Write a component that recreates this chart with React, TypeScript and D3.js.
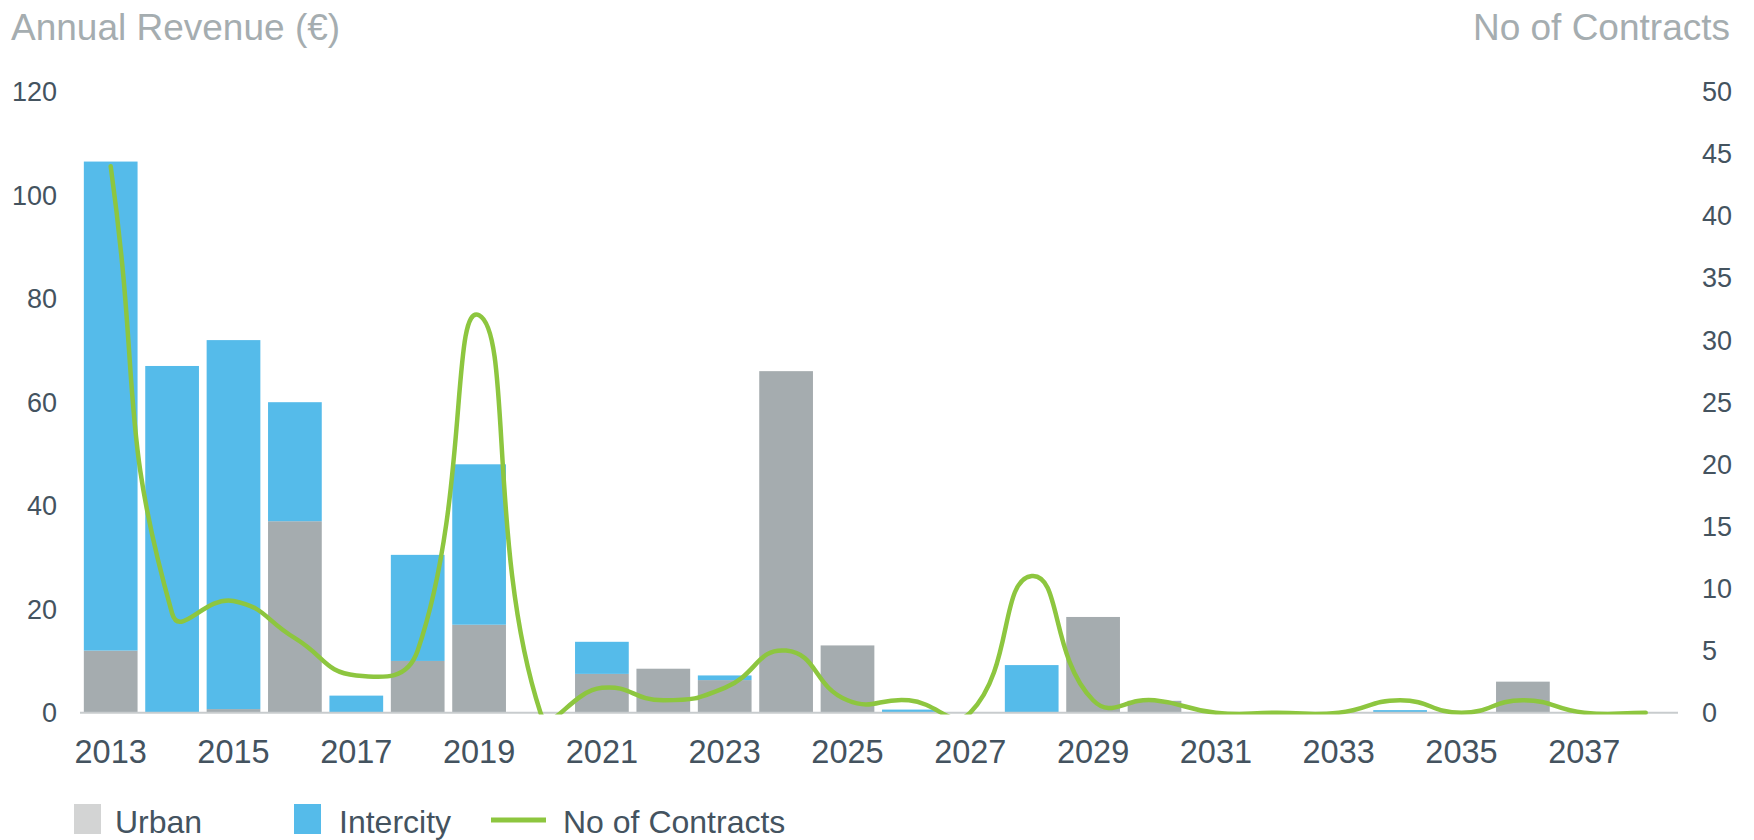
import React from "react";
import * as d3 from "d3";

const years = [2013, 2014, 2015, 2016, 2017, 2018, 2019, 2020, 2021, 2022, 2023, 2024, 2025, 2026, 2027, 2028, 2029, 2030, 2031, 2032, 2033, 2034, 2035, 2036, 2037, 2038];
const urban = [12, 0, 0.7, 37, 0, 10, 17, 0, 7.5, 8.5, 6.3, 66, 13, 0, 0, 0, 18.5, 2.3, 0, 0, 0, 0, 0, 6, 0, 0];
const intercity = [94.5, 67, 71.3, 23, 3.3, 20.5, 31, 0, 6.2, 0, 0.9, 0, 0, 0.6, 0, 9.2, 0, 0, 0, 0, 0, 0.5, 0, 0, 0, 0];
const contracts = [44, 8, 9, 6, 3, 5, 32, 0, 2, 1, 2, 5, 1, 1, 0, 11, 1, 1, 0, 0, 0, 1, 0, 1, 0, 0];
const leftTicks = [0, 20, 40, 60, 80, 100, 120];
const rightTicks = [0, 5, 10, 15, 20, 25, 30, 35, 40, 45, 50];
const xTickYears = [2013, 2015, 2017, 2019, 2021, 2023, 2025, 2027, 2029, 2031, 2033, 2035, 2037];

const W = 1754;
const H = 840;
const FONT = "'Liberation Sans', Arial, sans-serif";
const TEXT = "#44535F";
const TITLE = "#A5ADB0";
const URBAN = "#A5ACAF";
const URBAN_LEG = "#D3D4D4";
const INTER = "#55BBEA";
const GREEN = "#8DC63F";

// Excel-like smoothed line: Bezier segments whose handles follow the neighbour
// direction, scaled by the relative chord lengths.
function smoothPath(pts: [number, number][], s: number): string {
  const p = d3.path();
  if (!pts.length) return "";
  p.moveTo(pts[0][0], pts[0][1]);
  const dist = (a: [number, number], b: [number, number]) => Math.hypot(b[0] - a[0], b[1] - a[1]);
  for (let i = 0; i < pts.length - 1; i++) {
    const P0 = pts[i - 1] || pts[i];
    const P1 = pts[i];
    const P2 = pts[i + 1];
    const P3 = pts[i + 2] || pts[i + 1];
    const d01 = dist(P0, P1);
    const d12 = dist(P1, P2);
    const d23 = dist(P2, P3);
    const f1 = d01 + d12 > 0 ? (s * d12) / (d01 + d12) : 0;
    const f2 = d12 + d23 > 0 ? (s * d12) / (d12 + d23) : 0;
    const c1x = P1[0] + (P2[0] - P0[0]) * f1;
    const c1y = P1[1] + (P2[1] - P0[1]) * f1;
    const c2x = P2[0] - (P3[0] - P1[0]) * f2;
    const c2y = P2[1] - (P3[1] - P1[1]) * f2;
    p.bezierCurveTo(c1x, c1y, c2x, c2y, P2[0], P2[1]);
  }
  return p.toString();
}

export default function App() {
  const x0 = 80;
  const x1 = 1676.4;
  const yBase = 712.7;
  const yTop = 91.7;

  const x = d3.scaleBand<number>().domain(years).range([x0, x1]).paddingInner(0.125).paddingOuter(0.0625);
  const yL = d3.scaleLinear().domain([0, 120]).range([yBase, yTop]);
  const yR = d3.scaleLinear().domain([0, 50]).range([yBase, yTop]);
  const bw = x.bandwidth();
  const cx = (yr: number) => (x(yr) as number) + bw / 2;

  const pts = contracts.map((v, i) => [cx(years[i]), yR(v)] as [number, number]);
  const linePath = smoothPath(pts, 0.5);

  return (
    <svg width={W} height={H} style={{ position: "absolute", left: 0, top: 0, background: "#fff" }} fontFamily={FONT}>
      <defs>
        <clipPath id="plotClip">
          <rect x={x0} y={60} width={x1 - x0 + 10} height={yBase + 1.7 - 60} />
        </clipPath>
      </defs>
      {/* titles */}
      <text x={11} y={39.5} fontSize={37} fill={TITLE}>Annual Revenue (€)</text>
      <text x={1730} y={39.5} fontSize={37} fill={TITLE} textAnchor="end">No of Contracts</text>

      {/* left ticks */}
      {leftTicks.map((t) => (
        <text key={"l" + t} x={57} y={yL(t)} dy="0.35em" fontSize={27} fill={TEXT} textAnchor="end">{t}</text>
      ))}
      {/* right ticks */}
      {rightTicks.map((t) => (
        <text key={"r" + t} x={1702} y={yR(t)} dy="0.35em" fontSize={27} fill={TEXT}>{t}</text>
      ))}

      {/* bars */}
      {years.map((yr, i) => (
        <g key={"b" + yr}>
          {urban[i] > 0 && (
            <rect x={x(yr)} y={yL(urban[i])} width={bw} height={yL(0) - yL(urban[i])} fill={URBAN} />
          )}
          {intercity[i] > 0 && (
            <rect x={x(yr)} y={yL(urban[i] + intercity[i])} width={bw} height={yL(urban[i]) - yL(urban[i] + intercity[i])} fill={INTER} />
          )}
        </g>
      ))}

      {/* axis line */}
      <line x1={x0} x2={1678} y1={yBase} y2={yBase} stroke="#C8CCCE" strokeWidth={2} />

      {/* line */}
      <path d={linePath} fill="none" stroke={GREEN} strokeWidth={4.5} strokeLinecap="round" strokeLinejoin="round" clipPath="url(#plotClip)" />

      {/* x labels */}
      {xTickYears.map((yr) => (
        <text key={"x" + yr} x={cx(yr)} y={763} fontSize={32.5} fill={TEXT} textAnchor="middle">{yr}</text>
      ))}

      {/* legend */}
      <rect x={74} y={804} width={27} height={30} fill={URBAN_LEG} />
      <text x={115} y={833} fontSize={32} fill={TEXT}>Urban</text>
      <rect x={294} y={804} width={27} height={30} fill={INTER} />
      <text x={339} y={833} fontSize={32} fill={TEXT}>Intercity</text>
      <line x1={491} x2={546} y1={820} y2={820} stroke={GREEN} strokeWidth={5} />
      <text x={563} y={833} fontSize={32} fill={TEXT}>No of Contracts</text>
    </svg>
  );
}
